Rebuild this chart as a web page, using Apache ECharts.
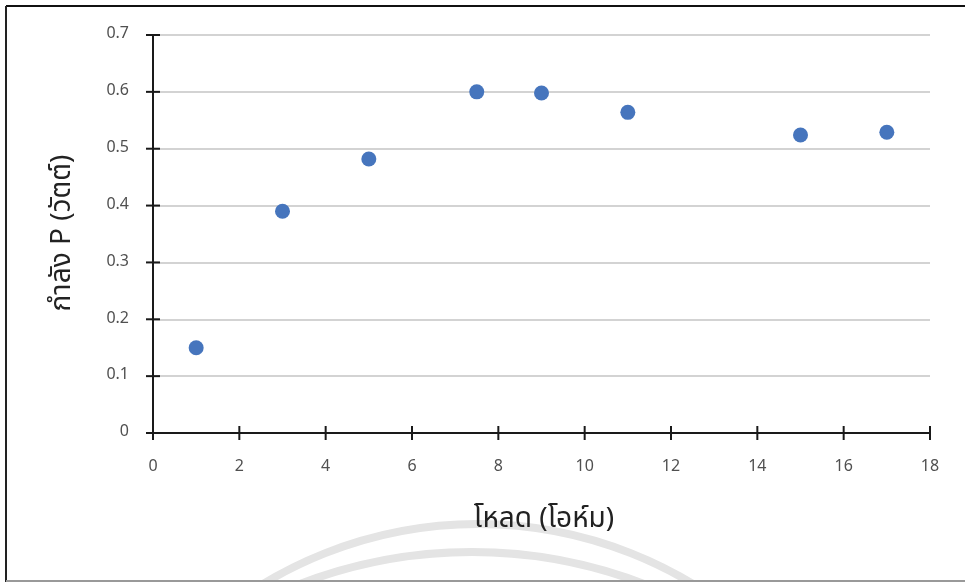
<!DOCTYPE html>
<html>
<head>
<meta charset="utf-8">
<script src="https://cdn.jsdelivr.net/npm/echarts@6/dist/echarts.min.js"></script>
<style>
html,body{margin:0;padding:0;background:#fff;}
#chart{width:965px;height:582px;}
</style>
</head>
<body>
<div id="chart"></div>
<script>
// Data
const loadOhm = [1, 3, 5, 7.5, 9, 11, 15, 17];
const powerW = [0.15, 0.39, 0.482, 0.60, 0.598, 0.564, 0.524, 0.529];
const xTitle = 'โหลด (โอห์ม)';
const yTitle = 'กำลัง P (วัตต์)';
const xRange = [0, 18, 2];
const yRange = [0, 0.7, 0.1];
const xTicks = [0, 2, 4, 6, 8, 10, 12, 14, 16, 18];
const yTicks = [0, 0.1, 0.2, 0.3, 0.4, 0.5, 0.6, 0.7];

const FONT = '"Noto Sans Thai","Noto Sans","DejaVu Sans",sans-serif';
const points = loadOhm.map((x, i) => [x, powerW[i]]);
const TICK = 7;
const AXIS_COLOR = '#1a1a1a';

const chart = echarts.init(document.getElementById('chart'));

const option = {
  backgroundColor: '#fff',
  animation: false,
  grid: {left: 153, right: 35, top: 35, bottom: 149},
  xAxis: {
    type: 'value', min: xRange[0], max: xRange[1], interval: xRange[2],
    axisLine: {show: true, onZero: false, lineStyle: {color: AXIS_COLOR, width: 2}},
    axisTick: {show: false},
    axisLabel: {margin: 27, color: '#505050', fontSize: 16, fontFamily: FONT},
    splitLine: {show: false}
  },
  yAxis: {
    type: 'value', min: yRange[0], max: yRange[1], interval: yRange[2],
    axisLine: {show: true, onZero: false, lineStyle: {color: AXIS_COLOR, width: 2}},
    axisTick: {show: false},
    axisLabel: {margin: 24, color: '#505050', fontSize: 16, fontFamily: FONT,
      formatter: v => (Math.round(v * 10) / 10).toString()},
    splitLine: {show: true, lineStyle: {color: '#c4c4c4', width: 1.5}}
  },
  graphic: [
    {type: 'circle', z: -10, silent: true, shape: {cx: 478, cy: 939, r: 415},
     style: {fill: 'none', stroke: '#e4e4e4', lineWidth: 8}},
    {type: 'circle', z: -10, silent: true, shape: {cx: 472, cy: 1032, r: 480},
     style: {fill: 'none', stroke: '#e4e4e4', lineWidth: 8}},
    {type: 'line', z: 100, silent: true, shape: {x1: 6, y1: 6, x2: 965, y2: 6},
     style: {stroke: '#111', lineWidth: 2}},
    {type: 'line', z: 100, silent: true, shape: {x1: 6, y1: 6, x2: 6, y2: 582},
     style: {stroke: '#222', lineWidth: 2}},
    {type: 'line', z: 100, silent: true, shape: {x1: 6, y1: 581, x2: 965, y2: 581},
     style: {stroke: '#999', lineWidth: 2}},
    {type: 'text', z: 100, silent: true, x: 544, y: 521,
     style: {text: xTitle, fill: '#222', fontSize: 28, fontFamily: FONT, align: 'center', verticalAlign: 'middle'}},
    {type: 'text', z: 100, silent: true, rotation: Math.PI / 2, x: 64, y: 233,
     style: {text: yTitle, fill: '#222', fontSize: 28, fontFamily: FONT, align: 'center', verticalAlign: 'middle'}}
  ],
  series: [{
    type: 'scatter',
    data: points, symbolSize: 15, z: 5,
    itemStyle: {color: '#4675bd', opacity: 1}
  }, {
    // crossing tick marks on the x axis
    type: 'custom', silent: true, z: 4,
    data: xTicks.map(v => [v, yRange[0]]),
    renderItem: (params, api) => {
      const p = api.coord([api.value(0), api.value(1)]);
      return {type: 'line', shape: {x1: p[0], y1: p[1] - TICK, x2: p[0], y2: p[1] + TICK},
        style: {stroke: AXIS_COLOR, lineWidth: 2}};
    }
  }, {
    // crossing tick marks on the y axis
    type: 'custom', silent: true, z: 4,
    data: yTicks.map(v => [xRange[0], v]),
    renderItem: (params, api) => {
      const p = api.coord([api.value(0), api.value(1)]);
      return {type: 'line', shape: {x1: p[0] - TICK, y1: p[1], x2: p[0] + TICK, y2: p[1]},
        style: {stroke: AXIS_COLOR, lineWidth: 2}};
    }
  }]
};
chart.setOption(option);
</script>
</body>
</html>
